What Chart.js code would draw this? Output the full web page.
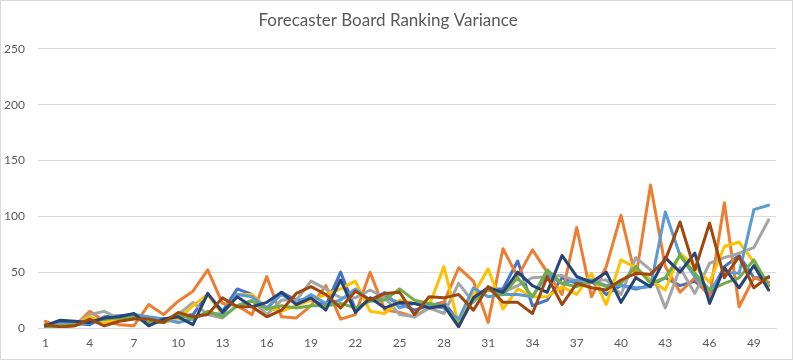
<!DOCTYPE html>
<html><head><meta charset="utf-8">
<script src="https://cdn.jsdelivr.net/npm/chart.js@4.4.1/dist/chart.umd.min.js"></script>
<style>html,body{margin:0;padding:0;background:#fff}#wrap{width:793px;height:360px}</style>
</head><body><div id="wrap"><canvas id="c" width="793" height="360"></canvas></div>
<script>
const categories = Array.from({length:50},(_,i)=>String(i+1));
const yTicks = [0,50,100,150,200,250];
const seriesNames = ["S1","S2","S3","S4","S5","S6","S7","S8"];
const colors = ["#4472C4","#ED7D31","#A5A5A5","#FFC000","#5B9BD5","#70AD47","#264478","#9E480E"];

const s1 = [2,5,4,3,10,11,12,8,8,10,12,30,15,35,30,17,32,25,25,20,50,17,25,28,22,16,20,23,6,28,35,35,60,20,25,45,40,42,30,38,35,38,45,38,42,30,55,65,45,45];
const s2 = [6,1,2,15,6,3,2,21,12,24,33,52,22,20,12,46,10,9,20,38,8,12,50,16,14,10,18,23,54,42,5,71,46,70,50,30,90,28,55,101,45,128,55,32,45,28,112,19,45,41];
const s3 = [2,3,3,12,15,8,9,5,7,12,23,12,9,20,25,12,25,25,42,35,27,27,34,27,12,10,18,13,40,23,37,32,38,45,46,47,42,43,43,30,63,52,18,54,31,58,63,67,72,97];
const s4 = [2,1,3,10,5,8,10,6,5,8,20,30,12,30,30,18,15,20,25,30,35,42,15,13,25,22,20,55,3,30,53,17,35,28,28,37,30,49,21,61,54,43,34,67,55,41,73,77,59,38];
const s5 = [3,2,3,5,8,10,12,10,8,5,8,14,12,30,28,18,30,22,30,22,25,35,25,32,18,22,20,18,8,36,28,30,30,28,48,40,43,43,38,38,36,37,104,65,46,34,50,49,106,110];
const s6 = [1,2,3,6,8,9,10,5,5,12,8,15,10,20,24,17,20,18,20,20,22,18,24,25,35,25,22,20,3,25,34,30,45,28,52,40,37,42,37,40,55,40,45,65,49,34,40,45,61,38];
const s7 = [2,7,6,5,9,10,13,2,8,10,3,31,14,28,19,23,32,21,27,16,43,14,27,18,23,22,18,20,1,27,36,32,50,38,32,65,46,41,50,23,45,37,63,50,67,22,54,36,56,34];
const s8 = [3,1,2,8,2,6,8,8,5,14,10,12,27,19,19,10,16,31,37,30,18,33,25,31,32,12,28,27,30,16,37,23,23,13,46,21,40,36,34,43,49,48,61,95,52,94,45,64,36,46];

const seriesData = [s1,s2,s3,s4,s5,s6,s7,s8];

const borderPlugin = {
  id:'border',
  afterDraw(chart){
    const ctx = chart.ctx;
    ctx.save();
    ctx.strokeStyle = '#D9D9D9';
    ctx.lineWidth = 1;
    ctx.strokeRect(0.5,0.5,chart.width-1,chart.height-1);
    ctx.restore();
  }
};

new Chart(document.getElementById('c'), {
  type:'line',
  data:{
    labels:categories,
    datasets: seriesData.map((d,i)=>({
      label:seriesNames[i], data:d, borderColor:colors[i], backgroundColor:colors[i],
      borderWidth:3, pointRadius:0, tension:0, borderJoinStyle:'round', borderCapStyle:'round',
      order: 8 - i
    }))
  },
  options:{
    responsive:false, animation:false, maintainAspectRatio:false,
    layout:{padding:{left:0,right:17,top:0,bottom:0}},
    plugins:{
      legend:{display:false}, tooltip:{enabled:false},
      title:{display:true, text:'Forecaster Board Ranking Variance', color:'#595959',
        font:{family:'Lato', size:17, weight:'normal'}, padding:{top:10.5,bottom:18}}
    },
    scales:{
      x:{
        offset:true,
        grid:{display:false, drawTicks:false},
        border:{display:true, color:'#D9D9D9', width:1},
        ticks:{autoSkip:false, maxRotation:0, color:'#595959', font:{family:'Lato', size:12}, padding:8,
          callback:(v,i)=> (i%3===0 ? categories[i] : '')},
        afterFit:s=>{s.height=32;}
      },
      y:{
        min:0, max:250,
        afterBuildTicks:s=>{s.ticks = yTicks.map(v=>({value:v}));},
        grid:{color:'#D9D9D9', drawTicks:false},
        border:{display:false},
        ticks:{color:'#595959', font:{family:'Lato', size:12}, padding:13},
        afterFit:s=>{s.width=38;}
      }
    }
  },
  plugins:[borderPlugin]
});
</script></body></html>
